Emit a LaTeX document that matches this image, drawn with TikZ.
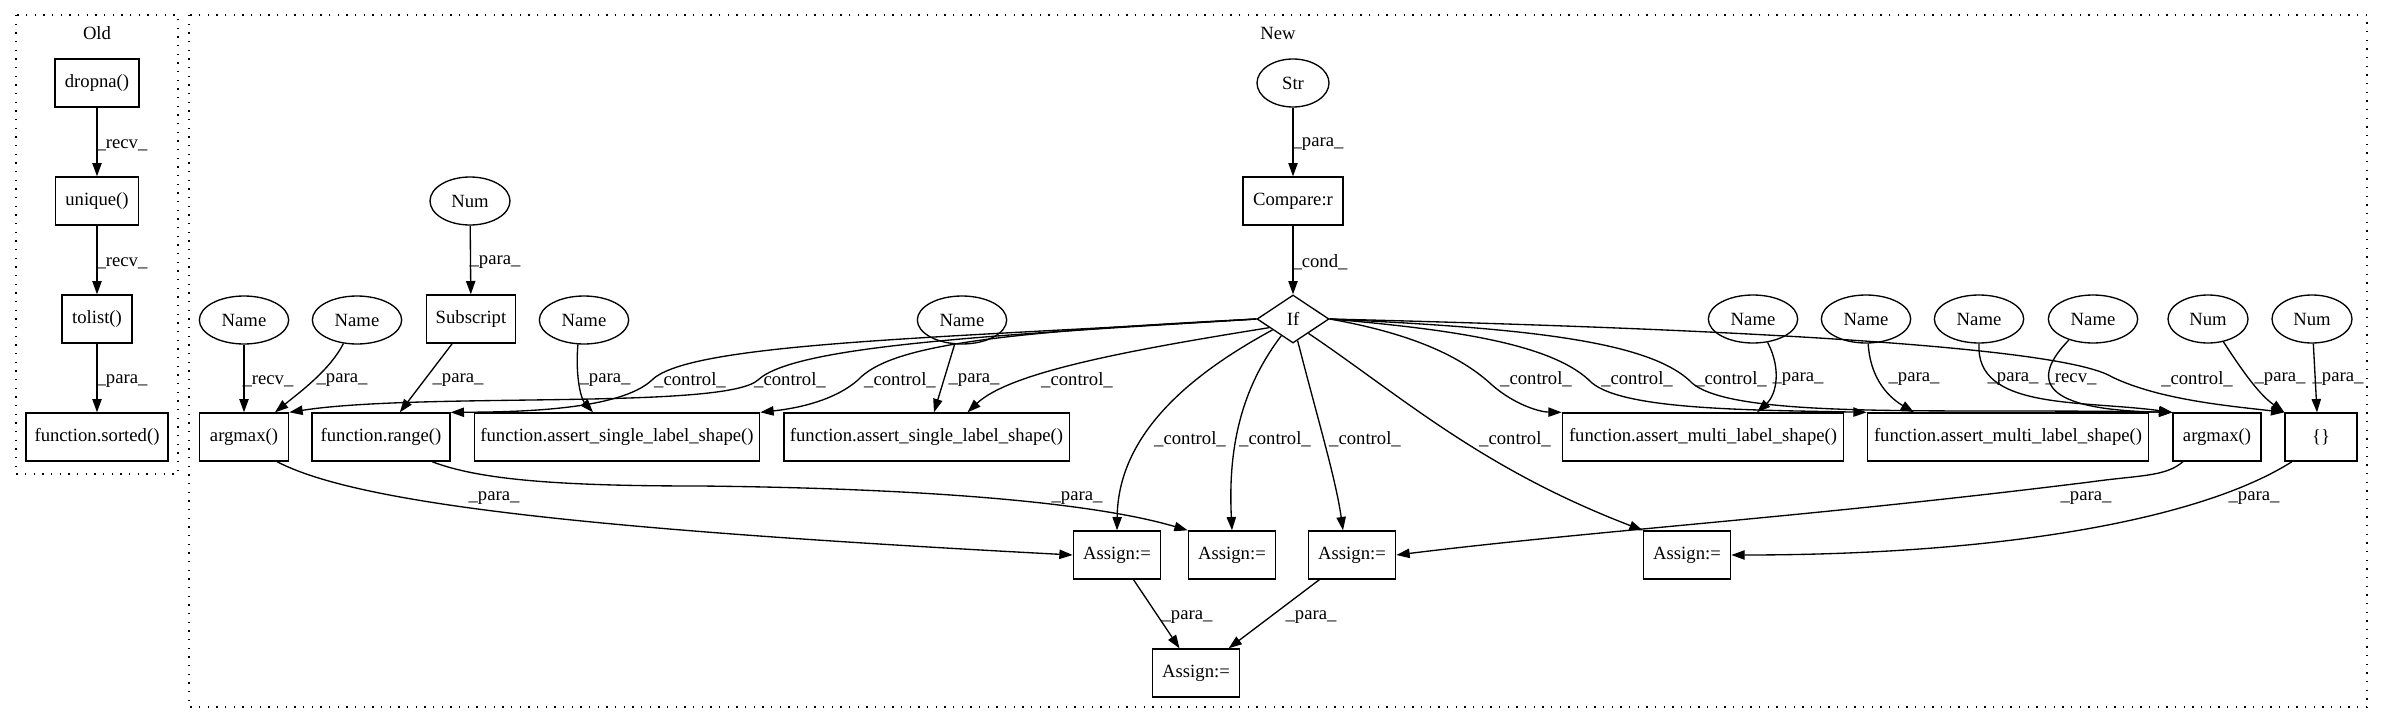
\documentclass[tikz,border=0pt]{standalone}
\usepackage{fontspec}
\setmainfont{Liberation Serif}
\usetikzlibrary{shapes.geometric,arrows.meta,calc}
\begin{document}
\begin{tikzpicture}[x=0.75pt,y=-0.75pt,
  font=\fontsize{14pt}{16pt}\selectfont, line width=1pt,
  box/.style={draw, rectangle, inner sep=0pt, minimum height=36pt},
  ell/.style={draw, ellipse, inner sep=0pt, minimum height=36pt},
  edge/.style={-{Triangle[length=10pt,width=7pt]}},
  lbl/.style={inner sep=0pt},
  cluster/.style={dash pattern=on 1pt off 5.5pt}]
\useasboundingbox (0,0) rectangle (2384,724);

% clusters
\draw[cluster] (16,15) rectangle (178,474);
\draw[cluster] (189,15) rectangle (2367,707);
\node[lbl] (oldlbl) at (97,33) {Old};
\node[lbl] (newlbl) at (1278,33) {New};

% Old
\node[box,minimum width=63pt] (dropna) at (97,83) {dropna()};
\node[box,minimum width=62pt] (unique) at (97,201) {unique()};
\node[box,minimum width=52.5pt] (tolist) at (97,319) {tolist()};
\node[box,minimum width=106.5pt] (sorted) at (97,437) {function.sorted()};
\draw[edge] (dropna) -- (unique);
\draw[edge] (unique) -- (tolist);
\draw[edge] (tolist) -- (sorted);
\node[lbl] (o1) at (122,145) {\_recv\_};
\node[lbl] (o2) at (122,263) {\_recv\_};
\node[lbl] (o3) at (122,381) {\_para\_};

% New nodes
\node[ell,minimum width=54pt] (str) at (1293,83) {Str};
\node[box,minimum width=75pt] (cmp) at (1293,201) {Compare:r};
\node[draw,diamond,inner sep=0pt,minimum width=54pt,minimum height=36pt] (if) at (1293,319) {If};

\node[ell,minimum width=60pt] (numL) at (470,201) {Num};
\node[ell,minimum width=67pt] (nameA) at (244,320) {Name};
\node[ell,minimum width=67pt] (nameB) at (357,320) {Name};
\node[box,minimum width=67pt] (subs) at (471,319) {Subscript};
\node[ell,minimum width=67pt] (nameC) at (584,320) {Name};
\node[ell,minimum width=67pt] (nameD) at (962,320) {Name};
\node[ell,minimum width=67pt] (nameE) at (1753,319) {Name};
\node[ell,minimum width=67pt] (nameF) at (1866,319) {Name};
\node[ell,minimum width=67pt] (nameG) at (1979,319) {Name};
\node[ell,minimum width=67pt] (nameH) at (2093,319) {Name};
\node[ell,minimum width=60pt] (numA) at (2208,319) {Num};
\node[ell,minimum width=60pt] (numB) at (2312,319) {Num};

\node[box,minimum width=67pt] (argL) at (244,437) {argmax()};
\node[box,minimum width=103.5pt] (range) at (381,437) {function.range()};
\node[box,minimum width=214pt] (sglA) at (617,437) {function.assert\_single\_label\_shape()};
\node[box,minimum width=214pt] (sglB) at (926.5,437) {function.assert\_single\_label\_shape()};
\node[box,minimum width=211pt] (mltA) at (1703,437) {function.assert\_multi\_label\_shape()};
\node[box,minimum width=211pt] (mltB) at (2008,437) {function.assert\_multi\_label\_shape()};
\node[box,minimum width=66pt] (argR) at (2217,437) {argmax()};
\node[box,minimum width=54pt] (brc) at (2321,437) {\{\}};

\node[box,minimum width=65.5pt] (asA) at (1117,555) {Assign:=};
\node[box,minimum width=65.5pt] (asB) at (1232,555) {Assign:=};
\node[box,minimum width=65.5pt] (asC) at (1352,555) {Assign:=};
\node[box,minimum width=65.5pt] (asD) at (1687,555) {Assign:=};
\node[box,minimum width=65.5pt] (asE) at (1196,673) {Assign:=};

% straight edges
\draw[edge] (str) -- (cmp);
\draw[edge] (cmp) -- (if);
\draw[edge] (numL) -- (subs);
\draw[edge] (nameA) -- (argL);
\draw[edge] (nameB.240) .. controls (330,370) and (300,392) .. ($(argL.north)+(31,0)$);
\draw[edge] (subs) -- (range);
\draw[edge] (nameC.256) .. controls (575,380) and (582,400) .. ($(sglA.north)+(-24,0)$);
\draw[edge] (nameD) -- (sglB);

\draw[edge] (nameE.-58) .. controls (1782,370) and (1776,395) .. ($(mltA.north)+(54,0)$);
\draw[edge] (nameF.-85) .. controls (1870,375) and (1885,395) .. ($(mltB.north)+(-94,0)$);
\draw[edge] (nameG.south) .. controls (1975,410) and (2080,400) .. (argR.north west);
\draw[edge] (nameH.-139) .. controls (2030,380) and (2040,410) .. (argR.north west);
\draw[edge] (numA.-56) .. controls (2245,375) and (2260,395) .. (brc.north west);
\draw[edge] (numB) -- ($(brc.north)+(-4,0)$);

% control edges (left)
\draw[edge] (if.west) .. controls (1000,335) and (795,345) .. (758,380) .. controls (725,410) and (420,392) .. (argL.north east);
\draw[edge] (if.west) .. controls (950,338) and (690,342) .. (652,380) .. controls (620,410) and (520,412) .. (range.north east);
\draw[edge] (if.west) .. controls (1000,332) and (890,345) .. (858,380) .. controls (835,400) and (800,408) .. (sglA.north east);
\draw[edge] (if.-160) .. controls (1130,350) and (1010,372) .. ($(sglB.north)+(41,0)$);
% control edges (right)
\draw[edge] (if.east) .. controls (1420,335) and (1465,360) .. (1492,385) .. controls (1515,405) and (1540,412) .. (mltA.north west);
\draw[edge] (if.east) .. controls (1460,330) and (1555,345) .. (1592,383) .. controls (1625,410) and (1750,410) .. (mltB.north west);
\draw[edge] (if.east) .. controls (1520,328) and (1650,340) .. (1692,383) .. controls (1735,420) and (1950,408) .. (argR.north west);
\draw[edge] (if.east) .. controls (1700,328) and (2060,345) .. (2112,377) .. controls (2160,400) and (2230,406) .. (brc.north west);
% control edges (down)
\draw[edge] (if.-152) .. controls (1180,380) and (1118,440) .. (asA.north);
\draw[edge] (if.-125) .. controls (1240,390) and (1228,450) .. (asB.north);
\draw[edge] (if.-78) .. controls (1318,420) and (1336,480) .. ($(asC.north)+(-9,0)$);
\draw[edge] (if.-43) .. controls (1400,395) and (1480,468) .. (asD.north west);

% para edges (lower)
\draw[edge] ($(argL.south)+(33,0)$) .. controls (360,505) and (600,530) .. (asA.west);
\draw[edge] ($(range.south)+(51,0)$) .. controls (480,480) and (560,486) .. (700,486) .. controls (900,488) and (1085,500) .. (asB.north west);
\draw[edge] ($(argR.south)+(-34,0)$) .. controls (2165,477) and (2140,475) .. (2090,482) .. controls (1800,518) and (1600,530) .. (asC.east);
\draw[edge] ($(brc.south)+(-29,0)$) .. controls (2200,520) and (2000,555) .. (asD.east);
\draw[edge] (asA) -- (asE);
\draw[edge] (asC) -- (asE);

% labels
\node[lbl] (l1) at (1318,144) {\_para\_};
\node[lbl] (l2) at (1320,262) {\_cond\_};
\node[lbl] (l3) at (495,262) {\_para\_};
\node[lbl] (l4) at (268,381) {\_recv\_};
\node[lbl] (l5) at (342,380) {\_para\_};
\node[lbl] (l6) at (458,380) {\_para\_};
\node[lbl] (l7) at (605,380) {\_para\_};
\node[lbl] (l8) at (974,380) {\_para\_};
\node[lbl] (l9) at (790,380) {\_control\_};
\node[lbl] (l10) at (690,380) {\_control\_};
\node[lbl] (l11) at (900,380) {\_control\_};
\node[lbl] (l12) at (1077,380) {\_control\_};
\node[lbl] (l13) at (1190,439) {\_control\_};
\node[lbl] (l14) at (1275,439) {\_control\_};
\node[lbl] (l15) at (1365,439) {\_control\_};
\node[lbl] (l16) at (1515,439) {\_control\_};
\node[lbl] (l17) at (1536,379) {\_control\_};
\node[lbl] (l18) at (1637,379) {\_control\_};
\node[lbl] (l19) at (1731,379) {\_control\_};
\node[lbl] (l20) at (2197,379) {\_control\_};
\node[lbl] (l21) at (1798,379) {\_para\_};
\node[lbl] (l22) at (1914,379) {\_para\_};
\node[lbl] (l23) at (2013,379) {\_para\_};
\node[lbl] (l24) at (2071,379) {\_recv\_};
\node[lbl] (l25) at (2280,379) {\_para\_};
\node[lbl] (l26) at (2338,379) {\_para\_};
\node[lbl] (l27) at (494,498) {\_para\_};
\node[lbl] (l28) at (1077,498) {\_para\_};
\node[lbl] (l29) at (2086,498) {\_para\_};
\node[lbl] (l30) at (2254,498) {\_para\_};
\node[lbl] (l31) at (1187,617) {\_para\_};
\node[lbl] (l32) at (1311,617) {\_para\_};
\end{tikzpicture}
\end{document}
